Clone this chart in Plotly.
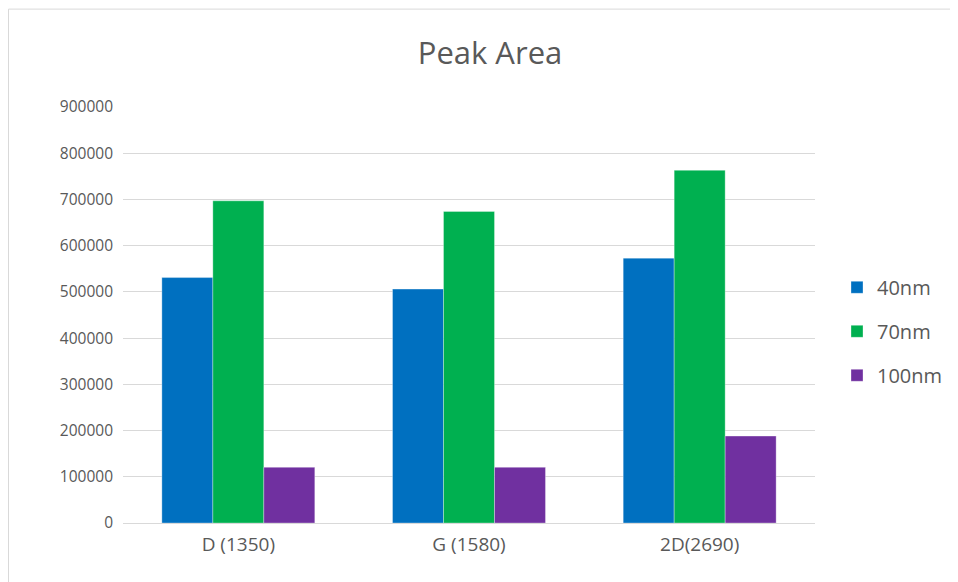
import plotly.graph_objects as go

categories = ["D (1350)", "G (1580)", "2D(2690)"]
series_names = ["40nm", "70nm", "100nm"]
values_40nm = [531000, 506000, 573000]
values_70nm = [697000, 674000, 763000]
values_100nm = [120500, 120500, 188000]
colors = ["#0070C0", "#00B050", "#7030A0"]
y_ticks = [0, 100000, 200000, 300000, 400000, 500000, 600000, 700000, 800000, 900000]

# page body has an 8px margin; lay the figure out in reference coordinates minus 8
OFF = 8
W, H = 958 - OFF, 582 - OFF
L, R, T, B = 123 - OFF, W - (815 - OFF), 107 - OFF, H - (523.5 - OFF)
pw, ph = W - L - R, H - T - B

def px(x):
    return (x - OFF - L) / pw

def py(y):
    return (H - B - (y - OFF)) / ph

fig = go.Figure()
for name, vals, col in zip(series_names, [values_40nm, values_70nm, values_100nm], colors):
    fig.add_trace(go.Bar(
        x=categories, y=vals, name=name, legendgroup=name,
        marker=dict(color=col, line=dict(color="rgba(255,255,255,0.45)", width=0.7)),
    ))

font_family = "'Open Sans', 'Noto Sans', sans-serif"
fig.update_layout(
    width=W, height=H,
    margin=dict(l=L, r=R, t=T, b=B, autoexpand=False),
    paper_bgcolor="white", plot_bgcolor="white",
    barmode="group", bargap=0.337, bargroupgap=0,
    font=dict(family=font_family, color="#595959", size=15),
    title=dict(text="Peak Area", x=px(490), xref="paper", xanchor="center",
               y=1 - (53 - OFF) / H, yref="container", yanchor="middle",
               font=dict(size=31, color="#595959", family=font_family)),
    xaxis=dict(showgrid=False, showline=True, linecolor="#d9d9d9", linewidth=1,
               ticks="", tickfont=dict(size=19, color="#595959"), ticklabelstandoff=4),
    yaxis=dict(range=[0, 900000], tickvals=y_ticks, ticktext=[str(v) for v in y_ticks],
               showgrid=True, gridcolor="#d9d9d9", gridwidth=1, zeroline=False,
               showline=False, ticks="", tickfont=dict(size=15.5, color="#595959"),
               ticklabelstandoff=9),
    legend=dict(x=px(837), xanchor="left", y=py(268), yanchor="top",
                font=dict(size=20, color="#595959"), tracegroupgap=15,
                itemwidth=30, bgcolor="rgba(0,0,0,0)"),
    shapes=[dict(type="rect", xref="paper", yref="paper",
                 x0=px(8.5), x1=px(958 + 10), y0=py(582 + 10), y1=py(9),
                 line=dict(color="#d9d9d9", width=1), fillcolor="rgba(0,0,0,0)",
                 layer="below")],
)

fig.write_html("out.html")
